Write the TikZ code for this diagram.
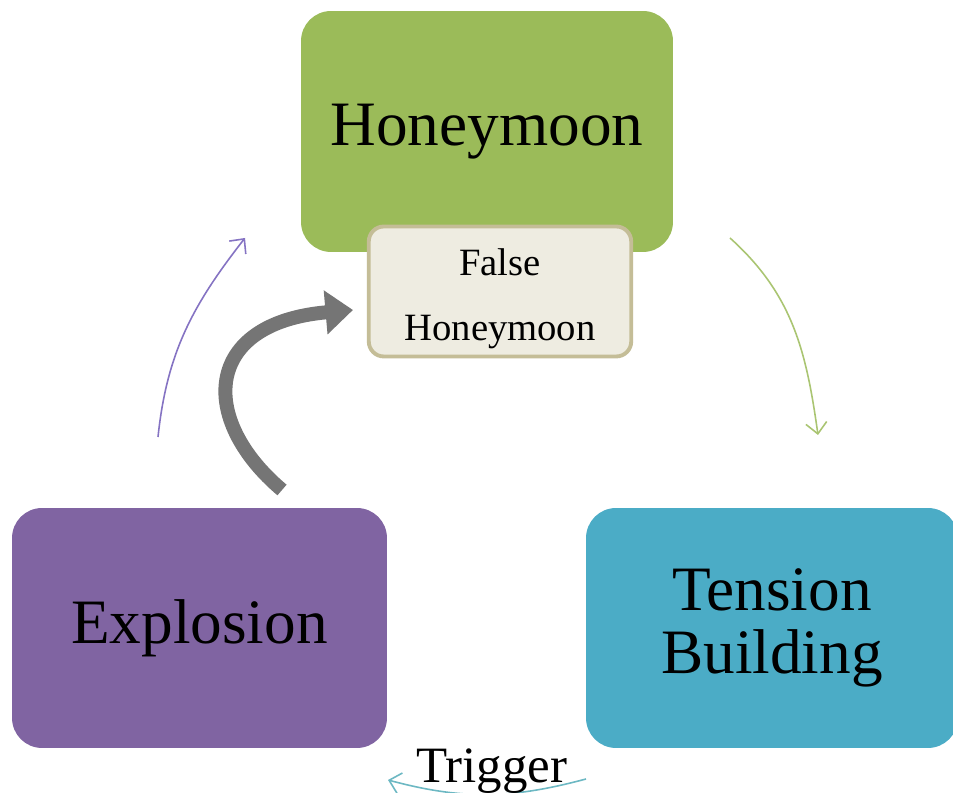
\documentclass[tikz,border=0pt]{standalone}
\usepackage{fontspec}
\setmainfont{Liberation Serif}
\usetikzlibrary{arrows.meta, positioning}
\definecolor{hmgreen}{HTML}{9BBB59}
\definecolor{expurple}{HTML}{8064A2}
\definecolor{tbblue}{HTML}{4BACC6}
\definecolor{fhfill}{HTML}{EEECE1}
\definecolor{fhborder}{HTML}{C4BD97}
\tikzset{
    phase_box/.style={
        rectangle, rounded corners=0.6cm, draw=none,
        minimum width=7.44cm, minimum height=4.8cm, align=center,
        font=\fontsize{36}{36}\selectfont
    },
    phase_green/.style={phase_box, fill=hmgreen, minimum height=4.82cm},
    phase_purple/.style={phase_box, fill=expurple, minimum width=7.5cm},
    phase_blue/.style={phase_box, fill=tbblue},
    box_false/.style={
        rectangle, rounded corners=0.3cm, draw=fhborder, fill=fhfill, line width=2.2pt,
        minimum width=5.25cm, minimum height=2.6cm,
        align=center, font=\fontsize{22}{37}\selectfont
    },
    cycle_arrow/.style={
        -{Straight Barb[length=0.22cm, width=0.42cm]}, line width=0.9pt
    },
    back_arrow/.style={
        -{Triangle[length=0.55cm, width=0.85cm]}, line width=0.28cm, draw=black!54
    },
    trig_lbl/.style={font=\fontsize{29}{29}\selectfont}
}
\begin{document}
\begin{tikzpicture}[x=0.02cm, y=0.02cm]
    \useasboundingbox[fill=white] (0,0) rectangle (953,793);

    \node[phase_green] (hm) at (487, 661.5) {Honeymoon};
    \node[box_false] (fh) at (500, 501.5) {\rule{0pt}{23pt}False\\Honeymoon};
    \node[phase_purple] (ex) at (199.5, 165) {Explosion};
    \node[phase_blue] (tb) at (772, 165) {Tension\\Building};

    % ends of the free arrows
    \coordinate (ex_out) at (158, 356);
    \coordinate (hm_in) at (245, 555);
    \coordinate (hm_out) at (730, 555);
    \coordinate (tb_in) at (818, 358);
    \coordinate (tb_out) at (586, 14);
    \coordinate (ex_in) at (388, 13);
    \coordinate (back_out) at (282, 303);
    \coordinate (back_c1) at (198, 374);
    \coordinate (back_c2) at (203, 470);
    \coordinate (fh_in) at (353, 483);

    \draw[cycle_arrow, draw=expurple!80!blue!80] (ex_out) to[out=84, in=232] (hm_in);
    \draw[cycle_arrow, draw=hmgreen!85] (hm_out) to[out=-42, in=98] (tb_in);
    \draw[cycle_arrow, draw=tbblue!60!teal!70] (tb_out) to[out=-165, in=-15]
        node[trig_lbl, midway, above=-3pt, xshift=0.1cm] (trig) {Trigger} (ex_in);

    \draw[back_arrow] (back_out) .. controls (back_c1) and (back_c2) .. (fh_in);

\end{tikzpicture}
\end{document}
